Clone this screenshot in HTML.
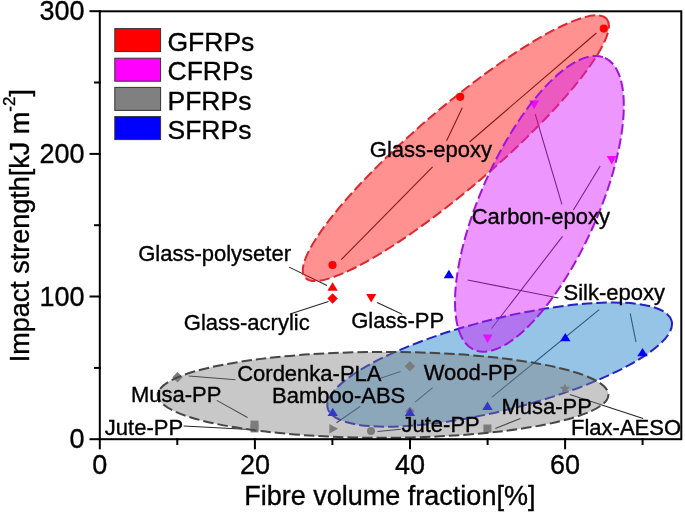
<!DOCTYPE html>
<html><head><meta charset="utf-8"><style>
html,body{margin:0;padding:0;background:#fff;}
body{width:685px;height:512px;overflow:hidden;}
svg{display:block;will-change:transform;}
text{font-family:"Liberation Sans",sans-serif;fill:#000;stroke:#000;stroke-width:0.35px;}
</style></head><body>
<svg width="685" height="512" viewBox="0 0 685 512">
<rect width="685" height="512" fill="#fff"/>
<g stroke="#262626" stroke-width="1.05" fill="none">
<line x1="446.6" y1="140.8" x2="462.3" y2="107.8"/>
<line x1="469.5" y1="142" x2="596.4" y2="33"/>
<line x1="432.6" y1="166.9" x2="341.2" y2="259.7"/>
<line x1="289.1" y1="267.1" x2="327.0" y2="285.5"/>
<line x1="290" y1="314" x2="328.5" y2="301.5"/>
<line x1="377.1" y1="302.4" x2="402.2" y2="314.2"/>
<line x1="535.2" y1="114.2" x2="561.9" y2="204.4"/>
<line x1="600.2" y1="166.1" x2="573.4" y2="209.9"/>
<line x1="562.5" y1="236.4" x2="491.5" y2="328.5"/>
<line x1="467.7" y1="280" x2="558.4" y2="298"/>
<line x1="599.2" y1="309.7" x2="491.7" y2="397.3"/>
<line x1="630.2" y1="313.4" x2="636" y2="342.1"/>
<line x1="188.8" y1="376.0" x2="235.5" y2="379.8"/>
<line x1="379.8" y1="378.6" x2="400.6" y2="371.6"/>
<line x1="360.4" y1="406.3" x2="336.5" y2="422.8"/>
<line x1="432.7" y1="387.6" x2="415.1" y2="402.2"/>
<line x1="216.8" y1="400.4" x2="247.5" y2="417.5"/>
<line x1="183.6" y1="426" x2="250" y2="429.6"/>
<line x1="377.5" y1="431.6" x2="400.7" y2="429.3"/>
<line x1="495.3" y1="428.6" x2="520.4" y2="418.4"/>
<line x1="569.8" y1="394.5" x2="643.1" y2="418.4"/>
</g>
<ellipse cx="455.84" cy="148.14" rx="198.71" ry="39.95" transform="rotate(-40.61 455.84 148.14)" fill="#ff0000" fill-opacity="0.431" stroke="#dc2832" stroke-width="2" stroke-dasharray="10.5 4"/>
<ellipse cx="499.68" cy="364.62" rx="177.42" ry="45.59" transform="rotate(-14.23 499.68 364.62)" fill="#2d89cd" fill-opacity="0.5" stroke="#2323be" stroke-width="2" stroke-dasharray="10.5 4"/>
<circle cx="332.5" cy="265.0" r="4.1" fill="#f00"/><circle cx="460.2" cy="96.8" r="4.1" fill="#f00"/><circle cx="603.8" cy="28.6" r="4.1" fill="#f00"/><polygon points="332.6,282.2 337.8,290.8 327.40000000000003,290.8" fill="#f00"/><polygon points="332.6,293.3 337.8,298.5 332.6,303.7 327.40000000000003,298.5" fill="#f00"/><polygon points="366.2,294.0 376.2,294.0 371.2,302.6" fill="#f00"/><polygon points="529.1,100.6 539.1,100.6 534.1,109.2" fill="#f0f"/><polygon points="606.7,156.0 616.7,156.0 611.7,164.6" fill="#f0f"/><polygon points="482.6,334.4 492.6,334.4 487.6,343.0" fill="#f0f"/><polygon points="177.5,372.0 182.7,377.2 177.5,382.4 172.3,377.2" fill="#7a7a7a"/><polygon points="409.9,361.0 415.09999999999997,366.2 409.9,371.4 404.7,366.2" fill="#7a7a7a"/><polygon points="409.9,406.59999999999997 414.5,411.2 409.9,415.8 405.29999999999995,411.2" fill="#7a7a7a"/><rect x="250.5" y="420.6" width="8.0" height="8.0" fill="#7a7a7a"/><rect x="250.5" y="424.4" width="8.0" height="8.0" fill="#7a7a7a"/><rect x="483.4" y="424.5" width="8.0" height="8.0" fill="#7a7a7a"/><polygon points="329.36,423.9 338.0,428.7 329.36,433.5" fill="#7a7a7a"/><circle cx="371.0" cy="431.0" r="4.0" fill="#7a7a7a"/><polygon points="564.90,383.30 566.35,386.80 570.13,387.10 567.25,389.56 568.13,393.25 564.90,391.28 561.67,393.25 562.55,389.56 559.67,387.10 563.45,386.80" fill="#7a7a7a"/><polygon points="448.9,269.8 454.09999999999997,278.2 443.7,278.2" fill="#00f"/><polygon points="565.3,332.90000000000003 570.5,341.3 560.0999999999999,341.3" fill="#00f"/><polygon points="642.5,347.90000000000003 647.7,356.3 637.3,356.3" fill="#00f"/><polygon points="487.5,401.5 492.7,409.9 482.3,409.9" fill="#00f"/><polygon points="332.7,407.7 337.9,416.09999999999997 327.5,416.09999999999997" fill="#00f"/><polygon points="409.9,407.7 415.09999999999997,416.09999999999997 404.7,416.09999999999997" fill="#00f"/>
<ellipse cx="383.05" cy="394.86" rx="225.35" ry="42.94" transform="rotate(-0.05 383.05 394.86)" fill="#808080" fill-opacity="0.433" stroke="#464646" stroke-width="2" stroke-dasharray="10.5 4"/>
<ellipse cx="539.41" cy="203.84" rx="159.97" ry="58.32" transform="rotate(-65.82 539.41 203.84)" fill="#d516fd" fill-opacity="0.45" stroke="#a014dc" stroke-width="2" stroke-dasharray="10.5 4"/>
<text x="369.8" y="156.9" font-size="22">Glass-epoxy</text>
<text x="471.7" y="223.5" font-size="22">Carbon-epoxy</text>
<text x="138.2" y="261.2" font-size="22">Glass-polyseter</text>
<text x="183.8" y="330.1" font-size="22">Glass-acrylic</text>
<text x="351.2" y="327.7" font-size="22">Glass-PP</text>
<text x="563.5" y="300.4" font-size="22">Silk-epoxy</text>
<text x="237.2" y="381.4" font-size="22">Cordenka-PLA</text>
<text x="423.7" y="380.4" font-size="22">Wood-PP</text>
<text x="272.0" y="402.7" font-size="22">Bamboo-ABS</text>
<text x="130.9" y="401.5" font-size="22">Musa-PP</text>
<text x="501.5" y="413.9" font-size="22">Musa-PP</text>
<text x="104.8" y="434.9" font-size="22">Jute-PP</text>
<text x="401.5" y="432.0" font-size="22">Jute-PP</text>
<text x="571.0" y="435.0" font-size="22">Flax-AESO</text>
<g stroke="#000" stroke-width="2" fill="none" stroke-linecap="square">
<rect x="99.8" y="11.3" width="581.5" height="427.9"/>
<line x1="90.5" y1="439.2" x2="99.8" y2="439.2"/>
<line x1="90.5" y1="296.5" x2="99.8" y2="296.5"/>
<line x1="90.5" y1="153.9" x2="99.8" y2="153.9"/>
<line x1="90.5" y1="11.2" x2="99.8" y2="11.2"/>
<line x1="95" y1="367.9" x2="99.8" y2="367.9"/>
<line x1="95" y1="225.2" x2="99.8" y2="225.2"/>
<line x1="95" y1="82.5" x2="99.8" y2="82.5"/>
<line x1="99.8" y1="439.2" x2="99.8" y2="448.3"/>
<line x1="254.9" y1="439.2" x2="254.9" y2="448.3"/>
<line x1="410.0" y1="439.2" x2="410.0" y2="448.3"/>
<line x1="565.1" y1="439.2" x2="565.1" y2="448.3"/>
<line x1="177.3" y1="439.2" x2="177.3" y2="444"/>
<line x1="332.4" y1="439.2" x2="332.4" y2="444"/>
<line x1="487.6" y1="439.2" x2="487.6" y2="444"/>
<line x1="642.6" y1="439.2" x2="642.6" y2="444"/>
</g>
<text x="84.5" y="448.3" font-size="27" text-anchor="end">0</text>
<text x="84.5" y="305.6" font-size="27" text-anchor="end">100</text>
<text x="84.5" y="163.0" font-size="27" text-anchor="end">200</text>
<text x="84.5" y="20.3" font-size="27" text-anchor="end">300</text>
<text x="99.8" y="474.2" font-size="27" text-anchor="middle">0</text>
<text x="254.9" y="474.2" font-size="27" text-anchor="middle">20</text>
<text x="410.0" y="474.2" font-size="27" text-anchor="middle">40</text>
<text x="565.1" y="474.2" font-size="27" text-anchor="middle">60</text>
<text x="244.3" y="504.5" font-size="27">Fibre volume fraction[%]</text>
<text transform="translate(28.6,362.3) rotate(-90)" x="-0.0" y="0" font-size="27">Impact strength[kJ m<tspan dy="-14" font-size="17">-2</tspan><tspan dy="14">]</tspan></text>
<rect x="114.8" y="28.6" width="45.8" height="23" fill="#ff0000" stroke="#333" stroke-width="1"/>
<text x="167.5" y="51.1" font-size="26.5">GFRPs</text>
<rect x="114.8" y="58.2" width="45.8" height="23" fill="#ff00ff" stroke="#333" stroke-width="1"/>
<text x="167.5" y="80.4" font-size="26.5">CFRPs</text>
<rect x="114.8" y="87.4" width="45.8" height="23" fill="#808080" stroke="#333" stroke-width="1"/>
<text x="167.5" y="109.7" font-size="26.5">PFRPs</text>
<rect x="114.8" y="116.6" width="45.8" height="23" fill="#0000ff" stroke="#333" stroke-width="1"/>
<text x="167.5" y="139.0" font-size="26.5">SFRPs</text>
</svg></body></html>
